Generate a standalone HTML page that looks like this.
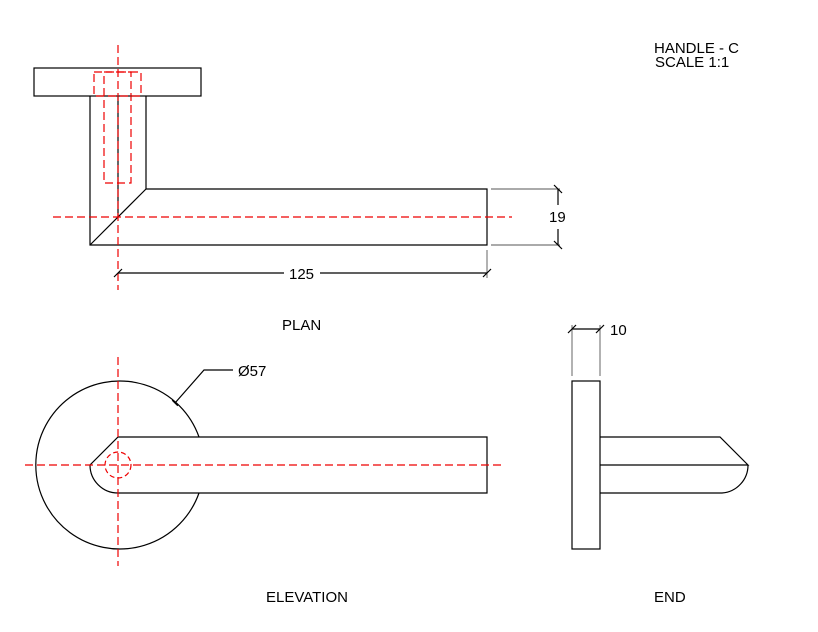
<!DOCTYPE html>
<html><head><meta charset="utf-8"><style>
html,body{margin:0;padding:0;background:#fff;}
svg{display:block;}
text{font-family:"Liberation Sans",Arial,sans-serif;font-size:15px;fill:#000;}
</style></head><body>
<svg width="818" height="632" viewBox="0 0 818 632" xmlns="http://www.w3.org/2000/svg">
<g fill="none" stroke="#000" stroke-width="1.2">
<rect x="34" y="68" width="167" height="28"/>
<path d="M90 96 V245 H487 V189 H146 V96"/>
<line x1="146" y1="189" x2="90" y2="245"/>
<line x1="118" y1="96" x2="118" y2="217"/>
</g>
<g fill="none" stroke="#e00" stroke-width="1.2" stroke-dasharray="8,4">
<rect x="94" y="72" width="47" height="24"/>
<rect x="104" y="72" width="27" height="111"/>
<line x1="118" y1="45" x2="118" y2="290"/>
<line x1="53" y1="217" x2="512" y2="217"/>
</g>
<g fill="none" stroke="#555" stroke-width="0.9">
<line x1="491" y1="189" x2="560" y2="189"/>
<line x1="491" y1="245" x2="560" y2="245"/>
<line x1="487" y1="250" x2="487" y2="278"/>
<line x1="572" y1="325" x2="572" y2="376"/>
<line x1="600" y1="325" x2="600" y2="376"/>
</g>
<g fill="none" stroke="#000" stroke-width="1.2">
<line x1="558" y1="189" x2="558" y2="205"/>
<line x1="558" y1="229" x2="558" y2="245"/>
<line x1="554" y1="185" x2="562" y2="193"/>
<line x1="554" y1="241" x2="562" y2="249"/>
<line x1="118" y1="273" x2="284" y2="273"/>
<line x1="320" y1="273" x2="487" y2="273"/>
<line x1="114" y1="277" x2="122" y2="269"/>
<line x1="483" y1="277" x2="491" y2="269"/>
<line x1="572" y1="329" x2="600" y2="329"/>
<line x1="568" y1="333" x2="576" y2="325"/>
<line x1="596" y1="333" x2="604" y2="325"/>
<path d="M199 437 A84 84 0 1 0 199 493"/>
<path d="M487 437 H118 L90 465 A28 28 0 0 0 118 493 H487 Z"/>
<polyline points="175,403 204,370 233,370"/>
<line x1="171" y1="403" x2="179" y2="403" transform="rotate(45 175 403)"/>
<rect x="572" y="381" width="28" height="168"/>
<path d="M600 437 H720 L748 465 H600"/>
<path d="M600 493 H722 A28 28 0 0 0 748 465"/>
</g>
<g fill="none" stroke="#e00" stroke-width="1.2" stroke-dasharray="8,4">
<circle cx="118" cy="465" r="13" stroke-dasharray="5,3"/>
<line x1="25" y1="465" x2="505" y2="465"/>
<line x1="118" y1="357" x2="118" y2="566"/>
</g>
<text x="549" y="222">19</text>
<text x="289" y="279">125</text>
<text x="282" y="330">PLAN</text>
<text x="610" y="335">10</text>
<text x="238" y="376">Ø57</text>
<text x="266" y="602">ELEVATION</text>
<text x="654" y="602">END</text>
<text x="654" y="53">HANDLE - C</text>
<text x="655" y="67">SCALE 1:1</text>
</svg>
</body></html>
